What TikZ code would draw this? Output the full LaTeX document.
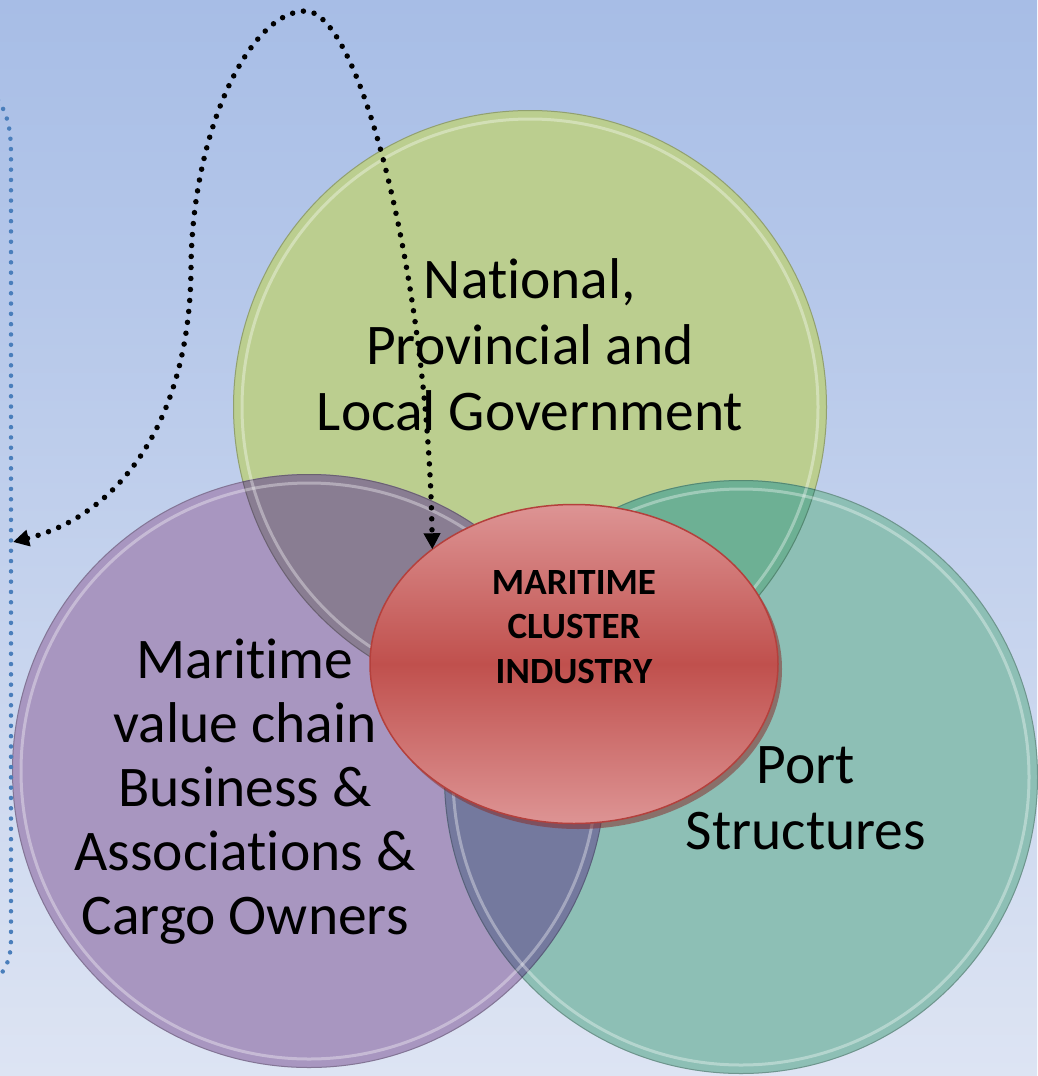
\documentclass[tikz,border=0pt]{standalone}
\usepackage{fontspec}
\setmainfont{Carlito}[Ligatures=NoCommon]
\usetikzlibrary{arrows.meta,shapes.geometric}
\definecolor{bgtop}{RGB}{167,189,230}
\definecolor{bgbot}{RGB}{221,228,243}
\definecolor{cgreen}{RGB}{187,206,143}
\definecolor{cpurple}{RGB}{168,150,192}
\definecolor{cteal}{RGB}{141,191,181}
\definecolor{cgp}{RGB}{137,125,146}
\definecolor{cgt}{RGB}{109,176,148}
\definecolor{cpt}{RGB}{116,121,158}
\definecolor{cgpt}{RGB}{100,110,130}
\definecolor{redtop}{RGB}{221,148,148}
\definecolor{redmid}{RGB}{192,80,77}
\definecolor{rededge}{RGB}{180,64,60}
\definecolor{bracketblue}{RGB}{74,126,187}
\begin{document}
\begin{tikzpicture}[x=1pt,y=-1pt,
  bigtext/.style={font=\fontsize{57.5}{66}\selectfont, align=center, text=black, inner sep=0pt},
  redtext/.style={font=\bfseries\fontsize{37}{44.5}\selectfont, align=center, text=black, inner sep=0pt},
  disc/.style={circle, minimum size=594pt, inner sep=0pt, outer sep=0pt},
  rimlight/.style={white, opacity=0.35, line width=3pt},
  rimdark/.style={black, opacity=0.22, line width=1pt},
  dotline/.style={line width=5.5pt, dash pattern=on 0pt off 11pt, line cap=round, black},
  bracketline/.style={line width=4.5pt, dash pattern=on 0pt off 10.3pt, line cap=round, bracketblue},
  tipA/.style={{Triangle[length=16pt,width=16pt]}-{Triangle[length=16pt,width=16pt]}}
]
\useasboundingbox (0,0) rectangle (1037,1076);
\shade[top color=bgtop,bottom color=bgbot] (0,0) rectangle (1037,1076);

% circles
\node[disc, fill=cgreen] (gc) at (530,407) {};
\node[disc, fill=cpurple] (pc) at (309,771) {};
\node[disc, fill=cteal] (tc) at (741,777) {};

% overlaps
\begin{scope}
  \clip (530,407) circle (297pt);
  \fill[cgp] (309,771) circle (297pt);
\end{scope}
\begin{scope}
  \clip (530,407) circle (297pt);
  \fill[cgt] (741,777) circle (297pt);
\end{scope}
\begin{scope}
  \clip (309,771) circle (297pt);
  \fill[cpt] (741,777) circle (297pt);
\end{scope}
\begin{scope}
  \clip (309,771) circle (297pt);
  \clip (530,407) circle (297pt);
  \fill[cgpt] (741,777) circle (297pt);
\end{scope}

% rims
\foreach \c in {gc,pc,tc}{
  \draw[rimlight] (\c.center) circle (288pt);
  \draw[rimdark] (\c.center) circle (296.5pt);
}

% centre ellipse
\fill[rededge!75!black, opacity=0.55] (578,669) ellipse [x radius=204pt, y radius=160pt];
\node[ellipse, minimum width=408pt, minimum height=319pt, inner sep=0pt, outer sep=0pt,
      top color=redtop, bottom color=redtop, middle color=redmid,
      draw=rededge, line width=1.5pt] (ell) at (574,664) {};

% texts
\node[bigtext] (gtxt) at (530,345) {National,\\Provincial and\\Local Government};
\node[bigtext, font=\fontsize{57.5}{64}\selectfont] (ptxt) at (245,792) {Maritime\\value chain\\Business \&\\Associations \&\\Cargo Owners};
\node[bigtext] (ttxt) at (806,798) {Port\\Structures};
\node[redtext] (etxt) at (574,627) {MARITIME\\CLUSTER\\INDUSTRY};

% blue dotted bracket
\draw[bracketline] (-2,100) .. controls (8,115) and (11,130) .. (11,155) -- (11,940) .. controls (11,955) and (8,966) .. (-2,978);

% dotted double arrow
\coordinate (brk) at (13,542);
\draw[dotline, tipA] (brk) .. controls (120,515) and (190,420) .. (191,268)
   .. controls (192,130) and (250,12) .. (305,11)
   .. controls (360,10) and (428,280) .. (ell.141.6);
\end{tikzpicture}
\end{document}
